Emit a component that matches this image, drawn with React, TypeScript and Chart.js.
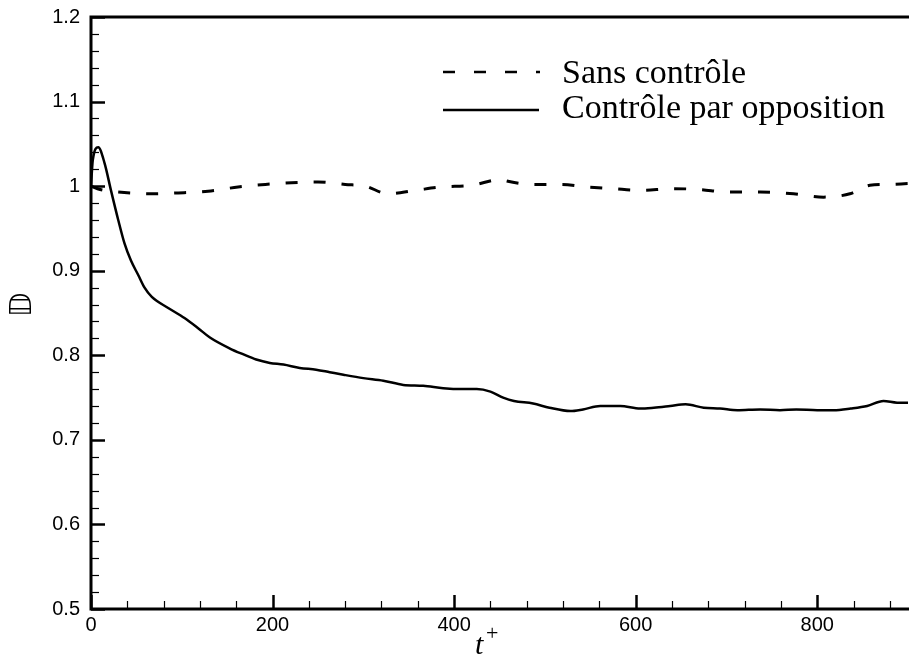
import { useEffect, useRef } from "react";
import { Chart, registerables } from "chart.js";

Chart.register(...registerables);

// t+ values and drag ratio D for the controlled case (solid line)
const solidT = [0, 2, 8, 15, 22, 30, 37, 44, 52, 59, 67, 85, 103, 118, 131, 153, 168, 182, 197, 212, 230, 248, 263, 278, 300, 322, 344, 366, 388, 410, 425, 440, 454, 466, 487, 505, 528, 542, 561, 583, 605, 620, 638, 655, 675, 693, 712, 737, 759, 777, 800, 818, 837, 855, 873, 888, 900];
const solidD = [1.0, 1.031, 1.046, 1.027, 0.995, 0.96, 0.932, 0.912, 0.895, 0.88, 0.869, 0.856, 0.844, 0.832, 0.821, 0.808, 0.801, 0.795, 0.791, 0.789, 0.785, 0.783, 0.78, 0.777, 0.773, 0.77, 0.765, 0.764, 0.761, 0.76, 0.76, 0.757, 0.75, 0.746, 0.743, 0.738, 0.734, 0.736, 0.74, 0.74, 0.737, 0.738, 0.74, 0.742, 0.738, 0.737, 0.735, 0.736, 0.735, 0.736, 0.735, 0.735, 0.737, 0.74, 0.746, 0.744, 0.744];

// uncontrolled case (dashed line)
const dashedT = [0, 10, 30, 67, 96, 129, 162, 192, 221, 250, 280, 302, 327, 357, 386, 419, 452, 458, 487, 517, 546, 575, 605, 641, 671, 700, 737, 774, 807, 836, 858, 877, 900];
const dashedD = [1.0, 0.996, 0.993, 0.991, 0.992, 0.994, 0.999, 1.002, 1.004, 1.005, 1.002, 1.0, 0.991, 0.995, 0.999, 1.001, 1.008, 1.006, 1.002, 1.002, 0.999, 0.997, 0.995, 0.997, 0.996, 0.993, 0.993, 0.991, 0.987, 0.991, 1.001, 1.002, 1.003];

const seriesLabels = ["Sans contrôle", "Contrôle par opposition"];
const xRange = [0, 900];
const yRange = [0.5, 1.2];
const xMajorStep = 200;
const xMinorStep = 40;
const yMajorStep = 0.1;
const yMinorStep = 0.02;
const xTitleMain = "t";
const xTitleSup = "+";
const yTitle = "𝔻";

const framePlugin = {
  id: "frame",
  afterDatasetsDraw(chart: any) {
    const { ctx, chartArea: a, scales } = chart;
    const x = scales.x;
    const y = scales.y;
    ctx.save();
    ctx.strokeStyle = "#000";
    ctx.fillStyle = "#000";
    ctx.setLineDash([]);
    // x ticks (inward)
    const nx = Math.round((xRange[1] - xRange[0]) / xMinorStep);
    for (let i = 0; i <= nx; i++) {
      const v = xRange[0] + i * xMinorStep;
      const major = Math.abs(v / xMajorStep - Math.round(v / xMajorStep)) < 1e-6;
      const px = Math.round(x.getPixelForValue(v)) + 0.5;
      ctx.lineWidth = major ? 2.5 : 1.2;
      ctx.beginPath();
      ctx.moveTo(px, a.bottom);
      ctx.lineTo(px, a.bottom - (major ? 14 : 8));
      ctx.stroke();
    }
    // y ticks (inward)
    const ny = Math.round((yRange[1] - yRange[0]) / yMinorStep);
    for (let i = 0; i <= ny; i++) {
      const v = yRange[0] + i * yMinorStep;
      const major = i % Math.round(yMajorStep / yMinorStep) === 0;
      const py = Math.round(y.getPixelForValue(v)) + 0.5;
      ctx.lineWidth = major ? 2.5 : 1.2;
      ctx.beginPath();
      ctx.moveTo(a.left, py);
      ctx.lineTo(a.left + (major ? 14 : 8), py);
      ctx.stroke();
    }
    // frame
    ctx.lineWidth = 3;
    ctx.lineCap = "square";
    ctx.beginPath();
    ctx.moveTo(a.left, a.top);
    ctx.lineTo(chart.width + 2, a.top);
    ctx.moveTo(a.left, a.top);
    ctx.lineTo(a.left, a.bottom);
    ctx.lineTo(chart.width + 2, a.bottom);
    ctx.stroke();

    // legend
    ctx.lineCap = "butt";
    ctx.lineWidth = 2.5;
    ctx.setLineDash([12, 19]);
    ctx.beginPath();
    ctx.moveTo(443, 72);
    ctx.lineTo(540, 72);
    ctx.stroke();
    ctx.setLineDash([]);
    ctx.beginPath();
    ctx.moveTo(443, 110);
    ctx.lineTo(539, 110);
    ctx.stroke();
    ctx.font = '34px "Liberation Serif"';
    ctx.textAlign = "left";
    ctx.textBaseline = "alphabetic";
    ctx.fillText(seriesLabels[0], 562, 83);
    ctx.fillText(seriesLabels[1], 562, 118);

    // x title
    ctx.font = 'italic 30px "Liberation Serif"';
    ctx.fillText(xTitleMain, 475, 654);
    ctx.font = '22px "Liberation Serif"';
    ctx.fillText(xTitleSup, 486, 640);

    // y title
    ctx.translate(23, 305);
    ctx.rotate(-Math.PI / 2);
    ctx.font = '30px "DejaVu Sans"';
    ctx.textAlign = "center";
    ctx.textBaseline = "middle";
    ctx.fillText(yTitle, 0, 0);
    ctx.restore();
  },
};

export default function App() {
  const ref = useRef<HTMLCanvasElement | null>(null);
  useEffect(() => {
    if (!ref.current) return;
    const tickFont = { family: '"Liberation Sans", Arial, sans-serif', size: 20 };
    const chart = new Chart(ref.current, {
      type: "line",
      data: {
        datasets: [
          {
            label: seriesLabels[0],
            data: dashedT.map((t, i) => ({ x: t, y: dashedD[i] })),
            borderColor: "#000",
            borderWidth: 3,
            borderDash: [12, 16],
            pointRadius: 0,
            cubicInterpolationMode: "monotone",
            fill: false,
          },
          {
            label: seriesLabels[1],
            data: solidT.map((t, i) => ({ x: t, y: solidD[i] })),
            borderColor: "#000",
            borderWidth: 2.5,
            pointRadius: 0,
            cubicInterpolationMode: "monotone",
            fill: false,
          },
        ],
      },
      options: {
        animation: false,
        responsive: false,
        devicePixelRatio: 1,
        layout: { padding: { top: 17, right: 1, left: 0, bottom: 0 } },
        plugins: { legend: { display: false }, tooltip: { enabled: false } },
        scales: {
          x: {
            type: "linear",
            min: xRange[0],
            max: xRange[1],
            grid: { display: false, drawTicks: false },
            border: { display: false },
            afterFit: (s: any) => {
              s.height = 54;
              s.paddingLeft = 0;
              s.paddingRight = 0;
            },
            ticks: {
              stepSize: xMajorStep,
              includeBounds: false,
              maxRotation: 0,
              autoSkip: false,
              padding: 4,
              color: "#000",
              font: tickFont,
            },
          },
          y: {
            type: "linear",
            min: yRange[0],
            max: yRange[1],
            grid: { display: false, drawTicks: false },
            border: { display: false },
            afterFit: (s: any) => {
              s.width = 91;
              s.paddingTop = 0;
              s.paddingBottom = 0;
            },
            ticks: {
              stepSize: yMajorStep,
              padding: 11,
              color: "#000",
              font: tickFont,
              callback: (v: any) => String(Number(Number(v).toFixed(1))),
            },
          },
        },
      },
      plugins: [framePlugin],
    } as any);
    return () => chart.destroy();
  }, []);
  return (
    <div style={{ position: "absolute", left: 0, top: 0, width: 909, height: 663, background: "#fff" }}>
      <canvas ref={ref} width={909} height={663} style={{ display: "block" }} />
    </div>
  );
}
